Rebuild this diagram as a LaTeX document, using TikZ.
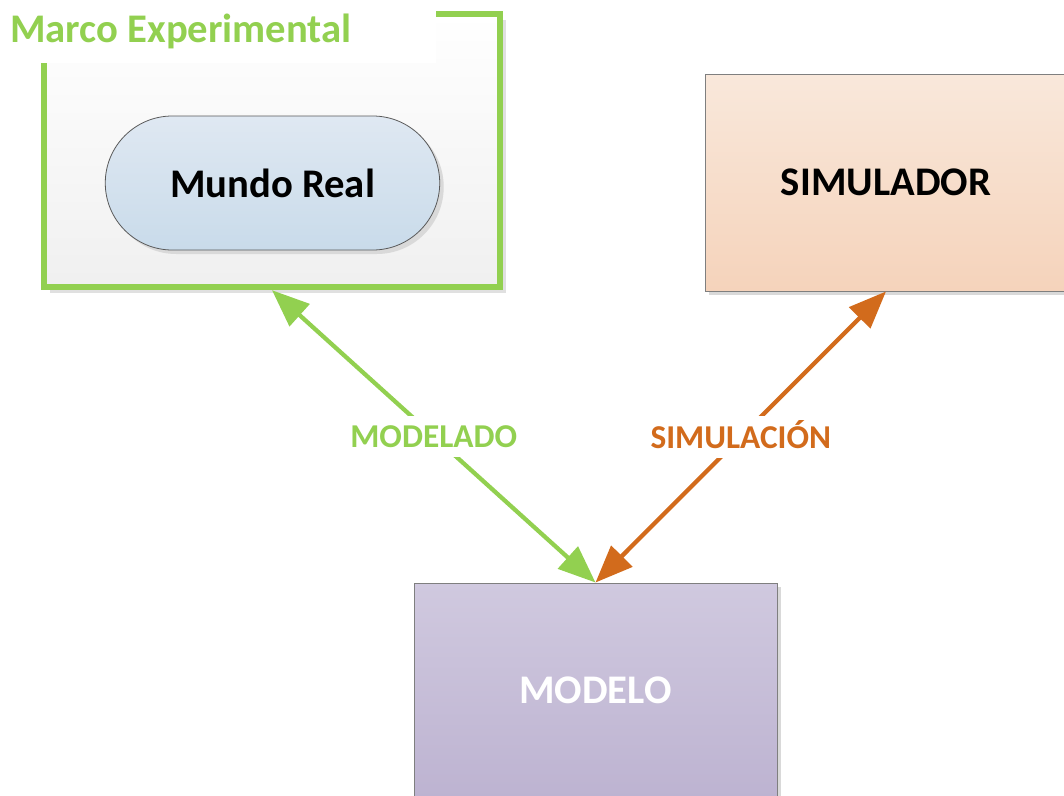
\documentclass[tikz,border=0pt]{standalone}
\usepackage{fontspec}
\setmainfont{Carlito}
\usetikzlibrary{arrows.meta,shapes.misc,shadows}
\definecolor{mgreen}{HTML}{92D050}
\definecolor{morange}{HTML}{D26B1C}
\definecolor{boxline}{HTML}{7F7F7F}
\definecolor{bluetop}{HTML}{DFE8F2}
\definecolor{bluebot}{HTML}{C9DBEA}
\definecolor{peachtop}{HTML}{F9E8DB}
\definecolor{peachbot}{HTML}{F5D3BB}
\definecolor{lilactop}{HTML}{D0C9DF}
\definecolor{lilacbot}{HTML}{BDB3D1}
\tikzset{
  bigtext/.style={font=\bfseries\fontsize{30.5}{36}\selectfont},
  shadowed/.style={drop shadow={shadow xshift=3pt,shadow yshift=-3pt,fill=black!15,opacity=1}},
  flatbox/.style={rectangle,draw=boxline,line width=0.7pt,shadowed,bigtext},
  lbl/.style={fill=white,font=\bfseries\fontsize{25}{30}\selectfont,inner xsep=2pt,inner ysep=7pt,text height=17pt,text depth=0pt},
  biarrow/.style={line width=3.2pt,{Triangle[length=28pt,width=22pt]}-{Triangle[length=28pt,width=22pt]}}
}
\begin{document}
\begin{tikzpicture}[x=0.75pt,y=-0.75pt]
\useasboundingbox (0,0) rectangle (1064,796);
\clip (0,0) rectangle (1064,796);
% Marco Experimental frame
\node[rectangle,draw=mgreen,line width=4.8pt,top color=white,bottom color=gray!12,
      minimum width=342pt,minimum height=204.75pt,
      drop shadow={shadow xshift=4.5pt,shadow yshift=-4.5pt,fill=black!12,opacity=1}]
  (frame) at (272,150.5) {};
\fill[white] (0,0) rectangle (436,63);
\node[anchor=base west,text=mgreen,bigtext,inner sep=0pt] (title) at (10,42) {Marco Experimental};
% Mundo Real
\node[rounded rectangle,draw=black!65,line width=0.6pt,top color=bluetop,bottom color=bluebot,
      minimum width=257.5pt,minimum height=100.5pt,shadowed,bigtext] (real) at (272.5,183) {Mundo Real};
% SIMULADOR
\node[flatbox,top color=peachtop,bottom color=peachbot,
      minimum width=271.5pt,minimum height=162.75pt] (sim) at (886,182.5) {SIMULADOR};
% MODELO
\node[flatbox,top color=lilactop,bottom color=lilacbot,text=white,
      minimum width=272.25pt,minimum height=161.25pt] (modelo) at (595.5,690.5) {MODELO};
% connectors
\draw[biarrow,draw=mgreen,fill=mgreen] (modelo.north) -- node[lbl,text=mgreen] (lmod) {MODELADO} (frame.south);
\draw[biarrow,draw=morange,fill=morange] (modelo.north) -- node[lbl,text=morange] (lsim) {SIMULACIÓN} (sim.south);
\end{tikzpicture}
\end{document}
